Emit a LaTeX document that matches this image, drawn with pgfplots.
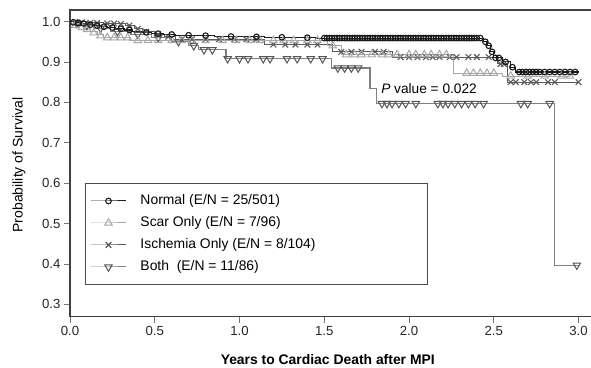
\documentclass[border=0pt]{standalone}
\usepackage{fontspec}
\setmainfont{Liberation Sans}
\usepackage{pgfplots}
\pgfplotsset{compat=1.18}
\definecolor{cNorm}{HTML}{1A1A1A}
\definecolor{cScar}{HTML}{A8A8A8}
\definecolor{cIsch}{HTML}{5A5A5A}
\definecolor{cBothL}{HTML}{808080}
\definecolor{cBothM}{HTML}{555555}
\newcommand{\legtxt}[1]{\makebox[282pt][l]{#1}}
\begin{document}
\begin{tikzpicture}
\begin{axis}[
  name=ax,
  width=526pt, height=306.5pt, scale only axis,
  xmin=0, xmax=3.103, ymin=0.27, ymax=1.0285,
  xtick={0,0.5,1,1.5,2,2.5,3},
  ytick={0.3,0.4,0.5,0.6,0.7,0.8,0.9,1.0},
  xtick pos=bottom, ytick pos=left,
  tick align=outside, major tick length=6pt,
  axis line style={draw=black!75, line width=1.1pt},
  tick style={black!55, line width=0.8pt},
  /pgf/number format/assume math mode=true,
  /pgf/number format/.cd, fixed, fixed zerofill, precision=1,
  /pgfplots/.cd,
  ticklabel style={font=\fontsize{13.2}{15}\selectfont, text=black!85},
  xlabel={\textbf{Years to Cardiac Death after MPI}},
  ylabel={Probability of Survival},
  every axis x label/.style={at={(axis description cs:0.49,0)}, anchor=center, yshift=-43.5pt, font=\fontsize{13.9}{16}\selectfont},
  every axis y label/.style={at={(axis description cs:0,0.494)}, anchor=center, xshift=-51pt, rotate=90, font=\fontsize{14}{16}\selectfont},
  reverse legend,
  legend style={at={(axis description cs:0.0285,0.4356)}, anchor=north west,
    draw=black!70, line width=1pt, inner xsep=5pt, inner ysep=11pt,
    font=\fontsize{13.9}{16}\selectfont,
    row sep=9pt,
    nodes={inner sep=0pt, anchor=west, text height=10pt, text depth=3pt},
    /tikz/column 1/.style={column sep=14pt}},
  legend cell align=left,
  legend image code/.code={\draw[sharp plot, mark repeat=2, mark phase=2, line width=1pt] plot coordinates {(0pt,0pt) (17.5pt,0pt) (35pt,0pt)};},
]
% ---------- Both ----------
\addplot[const plot, cBothL, line width=1.1pt, forget plot] coordinates {
(0,1.0) (0.06,0.99) (0.14,0.983) (0.24,0.975) (0.36,0.968) (0.48,0.96) (0.6,0.95) (0.7,0.94) (0.76,0.93) (0.92,0.908) (1.54,0.885) (1.77,0.835) (1.81,0.797) (2.86,0.397) (3.0,0.397)};
\addplot[only marks, cBothL, mark=triangle, mark size=4.3pt, mark options={rotate=180, draw=cBothM, line width=1pt, fill=white}] coordinates {
(0.04,0.995) (0.1,0.99) (0.18,0.983) (0.28,0.975) (0.4,0.968) (0.52,0.96) (0.64,0.95) (0.73,0.94) (0.79,0.93) (0.84,0.93)
(0.93,0.908) (1.0,0.908) (1.05,0.908) (1.14,0.908) (1.18,0.908) (1.28,0.908) (1.34,0.908) (1.42,0.908) (1.49,0.908)
(1.58,0.885) (1.62,0.885) (1.66,0.885) (1.7,0.885)
(1.84,0.797) (1.87,0.797) (1.9,0.797) (1.94,0.797) (1.98,0.797) (2.04,0.797) (2.17,0.797) (2.2,0.797) (2.23,0.797) (2.27,0.797) (2.31,0.797) (2.35,0.797) (2.39,0.797) (2.44,0.797) (2.66,0.797) (2.7,0.797) (2.83,0.797)
(2.99,0.397)};
\addlegendentry{\legtxt{Both\ \ (E/N = 11/86)}}
% ---------- Ischemia ----------
\addplot[const plot, cIsch, line width=1.1pt, forget plot] coordinates {
(0,1.0) (0.1,0.997) (0.2,0.995) (0.33,0.99) (0.38,0.982) (0.43,0.975) (0.5,0.968) (0.56,0.962) (0.62,0.956) (1.15,0.943) (1.55,0.925) (1.9,0.912) (2.52,0.895) (2.58,0.85) (3.0,0.85)};
\addplot[only marks, cIsch, mark=x, mark size=4pt, mark options={line width=1.1pt}] coordinates {
(0.03,0.999) (0.07,0.998) (0.12,0.997) (0.16,0.996) (0.22,0.995) (0.26,0.995) (0.3,0.994) (0.35,0.99) (0.4,0.982) (0.45,0.975) (0.52,0.968) (0.58,0.962)
(0.66,0.956) (0.72,0.956) (0.8,0.956) (0.88,0.956) (0.97,0.956) (1.04,0.956) (1.1,0.956)
(1.2,0.943) (1.27,0.943) (1.33,0.943) (1.4,0.943) (1.46,0.943)
(1.6,0.925) (1.66,0.925) (1.72,0.925) (1.8,0.925) (1.85,0.925)
(1.95,0.912) (2.0,0.912) (2.05,0.912) (2.1,0.912) (2.14,0.912) (2.18,0.912) (2.24,0.912) (2.28,0.912) (2.35,0.912) (2.4,0.912) (2.47,0.912)
(2.54,0.895) (2.56,0.895)
(2.6,0.85) (2.63,0.85) (2.68,0.85) (2.72,0.85) (2.75,0.85) (2.82,0.85) (2.86,0.85) (3.0,0.85)};
\addlegendentry{\legtxt{Ischemia Only (E/N = 8/104)}}
% ---------- Scar ----------
\addplot[const plot, cScar, line width=1.1pt, forget plot] coordinates {
(0,1.0) (0.04,0.99) (0.08,0.983) (0.12,0.975) (0.16,0.968) (0.2,0.96) (0.35,0.953) (1.52,0.94) (1.6,0.918) (2.26,0.872) (2.55,0.865) (2.95,0.865)};
\addplot[only marks, cScar, mark=triangle, mark size=4.3pt, mark options={line width=1pt, fill=white}] coordinates {
(0.03,0.99) (0.07,0.985) (0.1,0.98) (0.14,0.972) (0.18,0.965) (0.22,0.96)
(0.26,0.96) (0.3,0.96) (0.34,0.96) (0.4,0.953) (0.46,0.953) (0.52,0.953) (0.6,0.953) (0.66,0.953) (0.72,0.953) (0.8,0.953) (0.9,0.953) (0.98,0.953) (1.06,0.953) (1.12,0.953) (1.2,0.953) (1.26,0.953) (1.32,0.953) (1.4,0.953) (1.46,0.953)
(1.55,0.94)
(1.63,0.918) (1.68,0.918) (1.72,0.918) (1.78,0.918) (1.84,0.918) (1.88,0.918) (1.93,0.918) (2.0,0.918) (2.04,0.918) (2.09,0.918) (2.13,0.918) (2.18,0.918) (2.22,0.918)
(2.34,0.872) (2.38,0.872) (2.42,0.872) (2.46,0.872) (2.5,0.872)
(2.6,0.865) (2.7,0.865) (2.8,0.865) (2.9,0.865) (2.95,0.865)};
\addlegendentry{\legtxt{Scar Only (E/N = 7/96)}}
% ---------- Normal ----------
\addplot[const plot, cNorm, line width=1.1pt, forget plot] coordinates {
(0,1.0) (0.03,0.998) (0.06,0.996) (0.1,0.993) (0.14,0.99) (0.18,0.987) (0.22,0.985) (0.27,0.982) (0.32,0.979) (0.37,0.976) (0.42,0.973) (0.48,0.97) (0.55,0.968) (0.62,0.966) (0.72,0.965) (0.85,0.963) (1.0,0.962) (1.15,0.961) (1.3,0.96) (1.45,0.959) (2.44,0.95) (2.46,0.94) (2.48,0.925) (2.5,0.91) (2.55,0.9) (2.6,0.887) (2.63,0.875) (3.0,0.875)};
\addplot[only marks, cNorm, mark=o, mark size=2.8pt, mark options={line width=1.1pt}] coordinates {
(0.02,0.998) (0.05,0.996) (0.08,0.995) (0.12,0.992) (0.16,0.99) (0.2,0.987) (0.25,0.985) (0.3,0.982) (0.35,0.979) (0.45,0.973) (0.52,0.97) (0.6,0.968) (0.7,0.966) (0.8,0.965) (0.95,0.963) (1.1,0.962) (1.25,0.961) (1.4,0.96)
(1.5,0.959) (1.515,0.959) (1.53,0.959) (1.545,0.959) (1.56,0.959) (1.575,0.959) (1.59,0.959) (1.605,0.959) (1.62,0.959) (1.635,0.959) (1.65,0.959) (1.665,0.959) (1.68,0.959) (1.695,0.959) (1.71,0.959) (1.725,0.959) (1.74,0.959) (1.755,0.959) (1.77,0.959) (1.785,0.959) (1.8,0.959) (1.815,0.959) (1.83,0.959) (1.845,0.959) (1.86,0.959) (1.875,0.959) (1.89,0.959) (1.905,0.959) (1.92,0.959) (1.935,0.959) (1.95,0.959) (1.965,0.959) (1.98,0.959) (1.995,0.959) (2.01,0.959) (2.025,0.959) (2.04,0.959) (2.055,0.959) (2.07,0.959) (2.085,0.959) (2.1,0.959) (2.115,0.959) (2.13,0.959) (2.145,0.959) (2.16,0.959) (2.175,0.959) (2.19,0.959) (2.205,0.959) (2.22,0.959) (2.235,0.959) (2.25,0.959) (2.265,0.959) (2.28,0.959) (2.295,0.959) (2.31,0.959) (2.325,0.959) (2.34,0.959) (2.355,0.959) (2.37,0.959) (2.385,0.959) (2.4,0.959) (2.42,0.959)
(2.45,0.95) (2.47,0.94) (2.49,0.925) (2.51,0.91) (2.53,0.91) (2.57,0.9) (2.61,0.887)
(2.65,0.875) (2.67,0.875) (2.69,0.875) (2.71,0.875) (2.73,0.875) (2.75,0.875) (2.77,0.875) (2.8,0.875) (2.83,0.875) (2.86,0.875) (2.89,0.875) (2.92,0.875) (2.95,0.875) (2.98,0.875)};
\addlegendentry{\legtxt{Normal (E/N = 25/501)}}
\node[anchor=west, inner sep=0pt, font=\fontsize{13.7}{16}\selectfont] at (axis cs:1.835,0.835) {\textit{P} value = 0.022};
\end{axis}
\pgfresetboundingbox
\path[use as bounding box] ([xshift=-70pt,yshift=-50.5pt]ax.south west) rectangle ([xshift=521pt,yshift=10pt]ax.north west);
\end{tikzpicture}
\end{document}
